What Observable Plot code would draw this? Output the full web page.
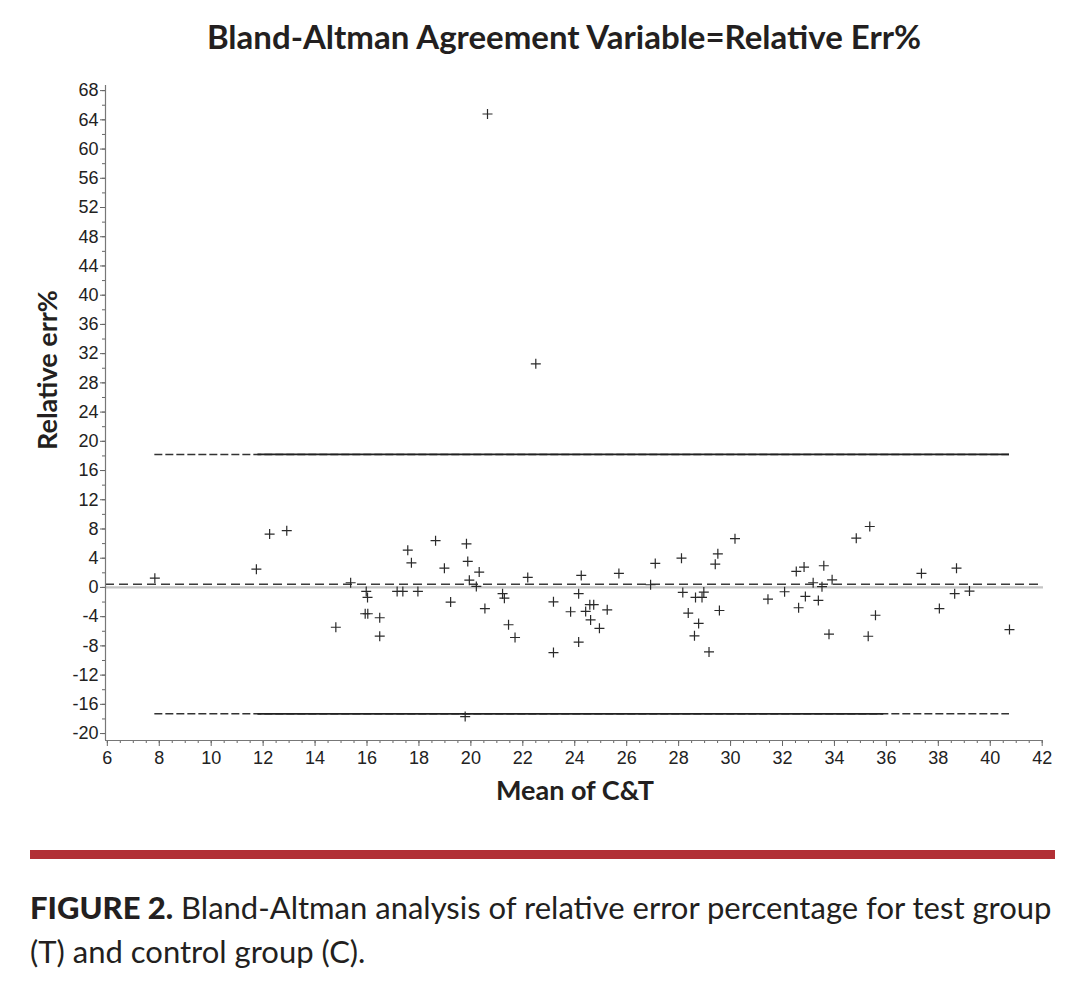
<!DOCTYPE html>
<html><head><meta charset="utf-8">
<script src="https://cdn.jsdelivr.net/npm/d3@7"></script>
<script src="https://cdn.jsdelivr.net/npm/@observablehq/plot@0.6"></script>
<style>
body{margin:0;background:#fff;width:1082px;height:994px;position:relative;overflow:hidden;font-family:Lato,sans-serif;color:#231f20}
#title{position:absolute;left:0;width:1128px;top:16px;text-align:center;font-weight:700;font-size:33px;line-height:40px;white-space:nowrap}
#chart{position:absolute;left:0;top:70px}
#xlab{position:absolute;left:0;width:1150px;top:772px;text-align:center;font-weight:700;font-size:27px;line-height:36px}
#ylab{position:absolute;left:47px;top:370px;width:300px;margin-left:-150px;margin-top:-18px;text-align:center;font-weight:700;font-size:27px;line-height:36px;transform:rotate(-90deg)}
#bar{position:absolute;left:30px;top:850px;width:1025px;height:9px;background:#b22f35}
#cap{position:absolute;left:30px;top:885px;width:1050px;font-size:31px;line-height:44px;white-space:nowrap}
#cap b{font-weight:900}
</style></head><body>
<div id="title">Bland-Altman Agreement Variable=Relative Err%</div>
<div id="chart"></div>
<div id="xlab">Mean of C&amp;T</div>
<div id="ylab">Relative err%</div>
<div id="bar"></div>
<div id="cap"><b>FIGURE 2.</b> Bland-Altman analysis of relative error percentage for test group<br>(T) and control group (C).</div>
<script>
// Mean of C&T (x) and Relative err% (y)
const meanCT = [7.83, 11.74, 12.25, 12.91, 15.37, 15.97, 16.02, 15.93, 16.03, 14.8,
  16.49, 16.49, 17.16, 17.38, 17.96, 17.57, 17.71, 18.64, 18.98, 19.22,
  19.83, 19.88, 20.32, 19.94, 20.21, 20.54, 19.78, 21.22, 21.29, 21.45,
  21.7, 22.19, 23.18, 23.18, 23.84, 24.25, 24.15, 24.15, 24.42, 24.58,
  24.73, 24.61, 24.95, 25.25, 25.7, 26.92, 27.1, 28.11, 28.16, 28.37,
  28.65, 28.9, 28.97, 28.77, 28.61, 29.17, 29.41, 29.51, 29.57, 30.17,
  31.44, 32.08, 32.53, 32.83, 32.62, 32.88, 33.18, 33.38, 33.52, 33.59,
  33.91, 33.79, 34.84, 35.36, 35.58, 35.3, 37.35, 38.04, 38.7, 38.63,
  39.2, 40.74, 20.64, 22.5];
const relErr = [1.27, 2.5, 7.3, 7.77, 0.64, -0.55, -1.37, -3.6, -3.6, -5.45,
  -4.15, -6.67, -0.55, -0.55, -0.55, 5.1, 3.37, 6.4, 2.64, -2.01,
  5.97, 3.56, 2.1, 1.0, 0.14, -2.9, -17.67, -0.86, -1.47, -5.11,
  -6.85, 1.37, -1.97, -8.92, -3.33, 1.64, -0.86, -7.48, -3.29, -2.36,
  -2.36, -4.45, -5.59, -3.07, 1.92, 0.37, 3.29, 4.0, -0.68, -3.51,
  -1.37, -1.37, -0.64, -4.92, -6.62, -8.82, 3.18, 4.6, -3.16, 6.68,
  -1.6, -0.59, 2.19, 2.78, -2.78, -1.23, 0.64, -1.78, 0.1, 2.97,
  1.04, -6.4, 6.74, 8.34, -3.81, -6.68, 1.92, -2.9, 2.64, -0.86,
  -0.5, -5.77, 64.8, 30.6];

// Bland-Altman statistics
const bias = 0.45;
const upperLoA = 18.2;
const lowerLoA = -17.3;
// portions of the limit lines that render solid in the original
const upperSolid = [11.8, 40.74];
const lowerSolid = [11.8, 35.9];

const xTicks = d3.range(6, 43, 2);
const xMinor = d3.range(6, 42.01, 0.5);
const yTicks = d3.range(-20, 69, 4);
const yMinor = d3.range(-20, 69, 2);
const xDomain = [5.93, 42.05];
const yDomain = [-20.95, 68.7];

const data = meanCT.map((x, i) => ({x, y: relErr[i]}));
const [xmin, xmax] = d3.extent(meanCT);
const fmt = d => String(d);

const cross = {
  draw(ctx, size) {
    const r = Math.sqrt(size / Math.PI);
    ctx.moveTo(-r, 0); ctx.lineTo(r, 0);
    ctx.moveTo(0, -r); ctx.lineTo(0, r);
  }
};

const chart = Plot.plot({
  width: 1082, height: 750,
  marginTop: 15, marginBottom: 80, marginLeft: 105, marginRight: 39,
  style: {fontFamily: "'Liberation Sans', Arial, sans-serif", fontSize: "18px", color: "#222", background: "white"},
  x: {domain: xDomain},
  y: {domain: yDomain},
  marks: [
    Plot.ruleY([0], {stroke: "#c4c4c4", strokeWidth: 2.2}),
    Plot.ruleY([bias], {stroke: "#3a3a3a", strokeWidth: 1.5, strokeDasharray: "9,5"}),
    Plot.ruleY([upperLoA, lowerLoA], {x1: xmin, x2: xmax, stroke: "#333", strokeWidth: 1.5, strokeDasharray: "8,3"}),
    Plot.ruleY([{v: upperLoA, a: upperSolid[0], b: upperSolid[1]}, {v: lowerLoA, a: lowerSolid[0], b: lowerSolid[1]}],
      {y: "v", x1: "a", x2: "b", stroke: "#222", strokeWidth: 1.8}),
    Plot.dot(data, {x: "x", y: "y", symbol: cross, r: 5, stroke: "#2a2a2a", strokeWidth: 1.2, fill: "none"}),
    Plot.axisY(yMinor, {tickSize: 3, tickFormat: () => "", label: null, stroke: "#666"}),
    Plot.axisY(yTicks, {tickSize: 5, tickPadding: 2, tickFormat: fmt, label: null, stroke: "#666", fill: "#222", fontSize: 18}),
    Plot.axisX(xMinor, {tickSize: 3, tickFormat: () => "", label: null, stroke: "#666"}),
    Plot.axisX(xTicks, {tickSize: 6, tickPadding: 5, tickFormat: fmt, label: null, stroke: "#666", fill: "#222", fontSize: 18}),
    Plot.ruleX([xDomain[0]], {stroke: "#777", strokeWidth: 1.2}),
    Plot.ruleY([yDomain[0]], {stroke: "#777", strokeWidth: 1.2})
  ]
});
document.getElementById("chart").appendChild(chart);
</script>
</body></html>
